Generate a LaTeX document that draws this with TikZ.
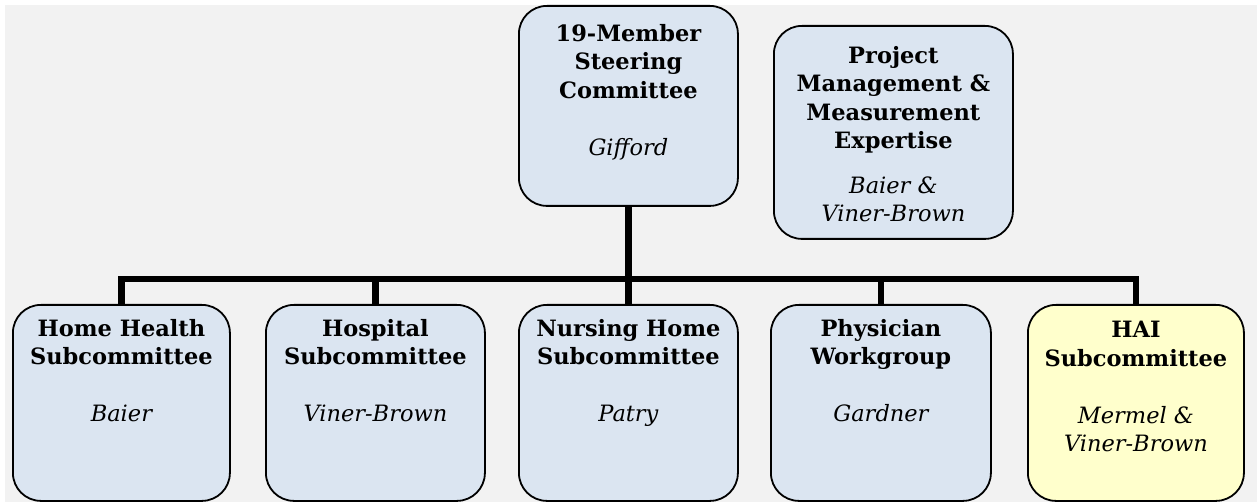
\documentclass[tikz,border=0pt]{standalone}
\usepackage{fontspec}
\setmainfont{DejaVu Serif}
\definecolor{boxblue}{HTML}{DBE5F1}
\definecolor{boxyellow}{HTML}{FFFFCC}
\definecolor{bggray}{HTML}{F2F2F2}
\begin{document}
\begin{tikzpicture}[x=1pt,y=-1pt,
  box/.style={draw=black, line width=1.8pt, rounded corners=28pt, fill=boxblue,
    anchor=north west, inner sep=0pt},
  lbl/.style={anchor=north, align=center, inner sep=0pt,
    font={\fontsize{22.5}{28.5}\selectfont\bfseries}},
  conn/.style={draw=black, line width=6.5pt}
]
\useasboundingbox (0,0) rectangle (1257,502);
\fill[bggray] (5,5) rectangle (1257,502);

% boxes
\node[box, minimum width=219pt, minimum height=200pt] (steer) at (518,5) {};
\node[box, minimum width=239pt, minimum height=213pt] (proj) at (773,25) {};
\node[box, minimum width=217pt, minimum height=196pt] (home) at (12,304) {};
\node[box, minimum width=219pt, minimum height=196pt] (hosp) at (265,304) {};
\node[box, minimum width=219pt, minimum height=196pt] (nurs) at (518,304) {};
\node[box, minimum width=220pt, minimum height=196pt] (phys) at (770,304) {};
\node[box, minimum width=216pt, minimum height=196pt, fill=boxyellow] (hai) at (1027,304) {};

% connectors
\coordinate (bus) at (628,279);
\draw[conn] (steer.south) -- (nurs.north);
\draw[conn] (home.north) |- (bus) -| (hai.north);
\draw[conn] (hosp.north) -- (hosp.north |- bus);
\draw[conn] (phys.north) -- (phys.north |- bus);

% labels
\node[lbl] (steert) at ([yshift=-19pt]steer.north)
  {19-Member\\Steering\\Committee\\[28.5pt]{\mdseries\itshape Gifford}};
\node[lbl] (projt) at ([yshift=-21pt]proj.north)
  {Project\\Management \&\\Measurement\\Expertise\\[16pt]{\mdseries\itshape Baier \&}\\{\mdseries\itshape Viner-Brown}};
\node[lbl] (homet) at ([yshift=-15pt]home.north)
  {Home Health\\Subcommittee\\[28.5pt]{\mdseries\itshape Baier}};
\node[lbl] (hospt) at ([yshift=-15pt]hosp.north)
  {Hospital\\Subcommittee\\[28.5pt]{\mdseries\itshape Viner-Brown}};
\node[lbl] (nurst) at ([yshift=-15pt]nurs.north)
  {Nursing Home\\Subcommittee\\[28.5pt]{\mdseries\itshape Patry}};
\node[lbl] (physt) at ([yshift=-15pt]phys.north)
  {Physician\\Workgroup\\[28.5pt]{\mdseries\itshape Gardner}};
\node[lbl] (hait) at ([yshift=-17pt]hai.north)
  {HAI\\Subcommittee\\[28.5pt]{\mdseries\itshape Mermel \&}\\{\mdseries\itshape Viner-Brown}};
\end{tikzpicture}
\end{document}
